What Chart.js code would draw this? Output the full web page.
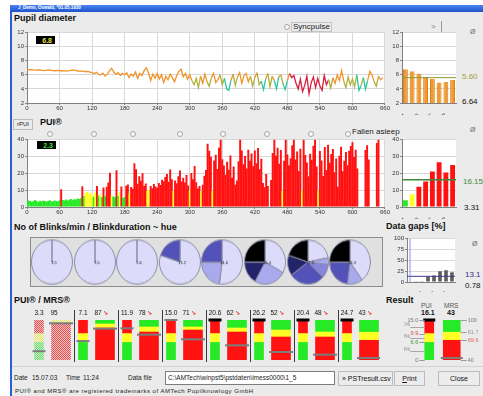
<!DOCTYPE html>
<html lang="en">
<head>
<meta charset="utf-8">
<title>PST result</title>
<script src="https://cdn.jsdelivr.net/npm/chart.js@4.4.1/dist/chart.umd.min.js"></script>
<style>
  html, body { margin: 0; padding: 0; }
  body {
    position: relative; width: 483px; height: 396px; overflow: hidden;
    background: #fff; font-family: "Liberation Sans", Arial, sans-serif; color: #111;
  }
  .a { position: absolute; white-space: nowrap; line-height: 1; }
  canvas { position: absolute; }
  #win { left: 10px; top: 5px; width: 473px; height: 391px; background: #ebebeb;
         border-left: 2px solid #2a5ed8; box-sizing: border-box; }
  #titlebar { left: 10px; top: 5px; width: 473px; height: 7px;
              background: linear-gradient(#4a86f0, #1d52cc); }
  #titlebar span { position: absolute; left: 8px; top: 1px; font-size: 4.5px; color: #fff; font-weight: bold; }
  .head { font-size: 9px; font-weight: bold; }
  .small { font-size: 8px; color: #222; }
  .avg { font-size: 7px; color: #666; }
  .stat { font-size: 8px; }
  .radio { width: 4px; height: 4px; border: 1px solid #a8a8a8; border-radius: 50%; background: #f8f8f8; }
  .lcd { background: #000; font-size: 7px; font-weight: bold; text-align: right;
         padding: 1px 3px 0 0; box-sizing: border-box; }
  .btn { border: 1px solid #bcbcbc; background: #ececec; font-size: 7px; text-align: center;
         box-sizing: border-box; line-height: 13px; }
  .row { font-size: 6.5px; color: #222; }
</style>
</head>
<body>
<div id="win" class="a"></div>
<div id="titlebar" class="a"><span>J_Demo, Oswald, *01.05.1930</span></div>

<!-- pupil diameter -->
<div class="a head" style="left:14px;top:14px">Pupil diameter</div>
<div class="a radio" style="left:284px;top:24px"></div>
<div class="a small" style="left:291px;top:22px;border:1px solid #c6c6c6;padding:0 1px">Syncpulse</div>
<div class="a small" style="left:431px;top:23px;color:#777">&gt;</div>
<div class="a" style="left:441px;top:21px;width:1px;height:12px;background:#9a9a9a"></div>
<div class="a avg" style="left:470px;top:28px">Ø</div>
<div class="a stat" id="pupilMeanLabel" style="left:462px;top:73px;color:#a0a040"></div>
<div class="a stat" id="pupilFirstLabel" style="left:462px;top:98px"></div>
<canvas id="pupilChart" width="382" height="87" style="left:8px;top:28px"></canvas>
<canvas id="pupilBars" width="70" height="87" style="left:390px;top:28px"></canvas>
<div class="a lcd" id="pupilNow" style="left:36px;top:36px;width:19px;height:8px;color:#e6e632"></div>

<!-- PUI -->
<div class="a btn" style="left:13px;top:119px;width:20px;height:11px;line-height:9px;font-size:6px">rPUI</div>
<div class="a head" style="left:40px;top:118px">PUI®</div>
<div class="a radio" style="left:47px;top:131px"></div>
<div class="a radio" style="left:91px;top:131px"></div>
<div class="a radio" style="left:130px;top:131px"></div>
<div class="a radio" style="left:177px;top:131px"></div>
<div class="a radio" style="left:220px;top:131px"></div>
<div class="a radio" style="left:264px;top:131px"></div>
<div class="a radio" style="left:308px;top:131px"></div>
<div class="a radio" style="left:345px;top:131px"></div>
<div class="a small" style="left:352px;top:128px">Fallen asleep</div>
<div class="a avg" style="left:470px;top:126px">Ø</div>
<div class="a stat" id="puiMeanLabel" style="left:463px;top:178px;color:#3a8a3a"></div>
<div class="a stat" id="puiLowLabel" style="left:464px;top:204px"></div>
<canvas id="puiChart" width="382" height="84" style="left:8px;top:135px"></canvas>
<canvas id="puiBars" width="70" height="84" style="left:390px;top:135px"></canvas>
<div class="a lcd" id="puiNow" style="left:37px;top:141px;width:19px;height:8px;color:#33e833"></div>

<!-- blinks and data gaps -->
<div class="a head" style="left:14px;top:223px">No of Blinks/min / Blinkduration ~ hue</div>
<div class="a" style="left:30px;top:237px;width:353px;height:50px;border:1px solid #8c8c8c;background:#e0e0e0;box-sizing:border-box"></div>
<div class="a head" style="left:386px;top:222px">Data gaps [%]</div>
<div class="a avg" style="left:472px;top:240px">Ø</div>
<div class="a stat" id="gapMeanLabel" style="left:465px;top:271px;color:#303088"></div>
<div class="a stat" id="gapLowLabel" style="left:465px;top:282px"></div>
<canvas id="gapChart" width="70" height="58" style="left:390px;top:234px"></canvas>

<!-- PUI / MRS -->
<div class="a head" style="left:14px;top:296px">PUI® / MRS®</div>
<div class="a head" style="left:386px;top:296px">Result</div>
<div class="a" style="left:421px;top:303px;font-size:6.5px;color:#555">PUI</div>
<div class="a" style="left:444px;top:303px;font-size:6.5px;color:#555">MRS</div>
<div class="a" id="resultPuiLabel" style="left:421px;top:309px;font-size:7px;font-weight:bold"></div>
<div class="a" id="resultMrsLabel" style="left:447px;top:309px;font-size:7px;font-weight:bold"></div>
<canvas id="gaugeChart" width="352" height="66" style="left:28px;top:300px"></canvas>
<canvas id="resultChart" width="79" height="66" style="left:404px;top:300px"></canvas>
<div class="a" style="left:12px;top:366px;width:471px;height:1px;background:#d2d2d2"></div>

<!-- footer row -->
<div class="a row" style="left:14px;top:375px">Date</div>
<div class="a row" style="left:32px;top:375px">15.07.03</div>
<div class="a row" style="left:66px;top:375px">Time</div>
<div class="a row" style="left:83px;top:375px">11:24</div>
<div class="a row" style="left:128px;top:375px">Data file</div>
<div class="a" style="left:165px;top:371px;width:170px;height:14px;background:#fff;border:1px solid #7c7c7c;box-sizing:border-box;font-size:6.5px;padding:3px 2px;color:#222">C:\AMTech\winpst5\pstdaten\imess0000\1_5</div>
<div class="a btn" style="left:338px;top:371px;width:55px;height:15px;text-align:left;padding-left:3px;overflow:hidden">» PSTresult.csv</div>
<div class="a btn" style="left:394px;top:371px;width:31px;height:15px"><u>P</u>rint</div>
<div class="a btn" style="left:438px;top:371px;width:42px;height:15px">Close</div>
<div class="a" style="left:15px;top:388px;font-size:6px;letter-spacing:0.5px;color:#222">PUI® and MRS® are registered trademarks of AMTech Pupilknowlogy GmbH</div>

<script>
// ---- pupil diameter [mm], one sample every 4 s
const pupilStep = 4;
const pupilDiameter = [
  6.70, 6.72, 6.75, 6.70, 6.66, 6.71, 6.69, 6.64, 6.60, 6.66, 6.70, 6.65, 6.61, 6.58, 6.64,
  6.60, 6.55, 6.61, 6.52, 6.56, 6.62, 6.70, 6.66, 6.58, 6.54, 6.49, 6.55, 6.44, 6.50, 6.40,
  6.30, 6.18, 6.35, 6.08, 6.00, 6.25, 5.82, 6.10, 6.60, 6.92, 6.40, 6.08, 6.30, 5.90, 6.20,
  6.02, 6.30, 5.60, 6.12, 5.80, 6.40, 5.50, 6.20, 5.90, 6.60, 7.00, 6.30, 5.20, 6.10, 5.50,
  6.20, 5.40, 6.00, 4.90, 5.80, 5.30, 6.10, 5.60, 5.00, 5.90, 6.50, 6.80, 5.70, 6.20, 5.40,
  6.00, 5.20, 4.60, 5.50, 4.20, 5.80, 4.80, 6.10, 5.00, 4.40, 5.60, 6.20, 4.90, 5.30, 6.00,
  4.60, 5.50, 4.00, 3.80, 5.20, 6.10, 4.50, 5.70, 6.30, 4.80, 5.90, 6.20, 5.00, 5.80, 4.40,
  5.60, 6.30, 4.60, 5.10, 3.90, 5.40, 6.20, 4.30, 5.80, 5.20, 4.00, 5.70, 6.00, 4.70, 3.90,
  5.20, 6.20, 5.60, 5.90, 4.80, 4.00, 5.40, 3.60, 4.50, 5.80, 3.30, 4.90, 5.70, 4.20, 5.50,
  4.40, 3.80, 5.90, 4.60, 5.30, 4.10, 5.60, 4.80, 6.00, 5.20, 6.60, 5.10, 4.20, 5.70, 4.60,
  5.40, 4.30, 6.00, 3.80, 4.50, 5.60, 4.00, 5.20, 6.50, 6.00, 5.00, 4.40, 5.80, 5.30, 5.60
];
const pupilFlagFrom = 484, pupilFlagTo = 556;   // section flagged in red
const pupilNow = 6.8;

const minuteLabels = ['1', '2', '3', '4', '5', '6', '7', '8'];
const pupilMinute = [6.8, 6.5, 6.2, 5.7, 5.4, 4.9, 5.0, 5.3];
const pupilMean = 5.60;
const pupilFirst = 6.64;

// ---- PUI, one value every 3 s
const puiStep = 3;
const puiTrace = [
  3.2, 3.8, 3.5, 2.9, 3.6, 4.1, 3.4, 3.0, 3.7, 3.3, 3.9, 3.5, 3.1, 3.6, 4.0, 3.4, 3.2, 3.8, 3.5, 3.3,
  4.0, 10.5, 4.2, 3.8, 4.5, 3.9, 4.3, 4.8, 4.1, 4.6, 4.4, 5.0, 4.7, 5.2, 12.3, 6.5, 8.4, 9.0, 7.8, 8.6,
  7.2, 6.1, 8.8, 12.4, 6.8, 7.5, 5.9, 11.6, 6.4, 12.0, 14.5, 20.3, 7.0, 6.2, 5.8, 21.8, 6.6, 8.9, 12.2, 5.4,
  6.0, 12.6, 13.4, 8.2, 11.9, 10.8, 26.0, 22.4, 13.8, 18.2, 15.6, 20.1, 12.4, 14.0, 9.6, 9.9, 12.5, 11.2, 13.6, 12.1,
  11.4, 14.2, 13.0, 16.1, 15.3, 17.8, 19.6, 15.0, 22.3, 16.4, 9.5, 15.8, 14.1, 18.3, 21.6, 15.2, 17.4, 14.6, 19.0, 12.8,
  9.8, 20.2, 16.5, 24.3, 14.7, 11.0, 12.5, 9.4, 13.2, 18.6, 22.0, 37.5, 33.4, 29.8, 9.7, 27.6, 31.0, 22.5, 35.2, 40.0,
  28.4, 24.6, 19.2, 26.8, 22.1, 30.5, 17.4, 24.0, 13.2, 15.8, 27.2, 40.0, 33.6, 25.4, 30.2, 22.8, 34.0, 27.5, 31.8, 24.2,
  33.5, 26.0, 35.0, 22.4, 28.6, 14.2, 11.8, 19.6, 12.4, 0, 16.0, 32.0, 40.0, 30.4, 35.2, 25.6, 33.8, 9.6, 27.4, 40.0,
  31.2, 24.8, 29.0, 36.6, 40.0, 28.2, 33.0, 21.4, 34.6, 9.8, 40.0, 30.8, 26.4, 18.2, 31.6, 28.0, 36.4, 40.0, 24.0, 9.8,
  33.2, 27.6, 18.4, 35.6, 22.0, 37.0, 26.2, 31.4, 34.4, 20.6, 28.8, 12.0, 30.4, 35.8, 21.2, 27.4, 32.6, 24.8, 33.4, 36.2,
  38.4, 29.6, 34.0, 22.8, 0, 0, 0, 0, 33.8, 36.6, 28.2, 0, 0, 0, 0, 38.0, 40.0, 0, 0, 0,
  0
];
const puiNow = 2.3;
const puiMinute = [4.0, 7.5, 12.0, 15.1, 21.0, 26.5, 20.5, 25.0];
const puiMean = 16.15;
const puiLow = 3.31;

// ---- blinks per minute and share of each blink-duration class
const blinkRate = ['3.5', '3.5', '5.6', '13.2', '14.6', '16.4', '17.5', '18.3'];
const blinkShares = [
  [100, 0, 0, 0, 0, 0],
  [100, 0, 0, 0, 0, 0],
  [100, 0, 0, 0, 0, 0],
  [80, 0, 0, 20, 0, 0],
  [52, 23, 0, 25, 0, 0],
  [33, 25, 0, 0, 17, 25],
  [22, 5, 10, 28, 15, 20],
  [40, 12, 0, 23, 0, 25]
];

// ---- data gaps [%] per minute
const gapMinute = [1, 0.4, 2, 12, 15, 25, 27, 22.4];
const gapLow = 0.78;

// ---- PUI / MRS per minute
const groupPui = [3.3, 7.1, 11.9, 15.0, 20.6, 26.2, 20.4, 24.7];
const groupMrs = [95, 87, 78, 71, 62, 52, 48, 43];
const mrsGreenFrom = [100, 94, 89.5, 89.5, 88, 85, 82, 81.7];
const mrsRedBelow = [95.5, 88, 82, 85, 82, 74.5, 74.5, 69.6];
const puiLimits = [6.6, 9.9];          // green below, red above
const resultPui = 16.1;
const resultMrs = 43;
const resultShares = [22.9, 11.0, 66.1]; // time in green / yellow / red PUI band [%]
const resultMrsLimits = [69.6, 81.7];

// ------------------------------------------------------------
const FONT = '"Liberation Sans", Arial, sans-serif';
Chart.defaults.font.family = FONT;
Chart.defaults.font.size = 6;
Chart.defaults.color = '#333';
Chart.defaults.animation = false;
Chart.defaults.responsive = false;
Chart.defaults.plugins.legend.display = false;
Chart.defaults.plugins.tooltip.enabled = false;

const PUI_MAX = 15, MRS_MIN = 40, MRS_MAX = 100;
const GREEN = '#26ea26', YELLOW = '#ffff26', RED = '#ff1212';

// white plot background
const plotBg = {
  id: 'plotBg',
  beforeDraw(chart) {
    const a = chart.chartArea, c = chart.ctx;
    c.save();
    c.fillStyle = '#fff';
    c.fillRect(a.left, a.top, a.right - a.left, a.bottom - a.top);
    c.restore();
  }
};

// horizontal reference line (mean values)
function hLine(value, color, width) {
  return {
    id: 'hLine',
    afterDatasetsDraw(chart) {
      const a = chart.chartArea, c = chart.ctx;
      const y = chart.scales.y.getPixelForValue(value);
      c.save();
      c.strokeStyle = color;
      c.lineWidth = width;
      c.beginPath(); c.moveTo(a.left, y); c.lineTo(a.right, y); c.stroke();
      c.restore();
    }
  };
}

const grid = { color: '#d8d8d8', tickLength: 2, tickColor: '#888' };

function valueAxis(min, max, step, width) {
  return {
    min, max,
    ticks: { stepSize: step, padding: 1, maxTicksLimit: 20 },
    grid, border: { color: '#808080' },
    afterFit(s) { s.width = width; }
  };
}
function timeAxis() {
  return {
    type: 'linear', min: 0, max: 660, offset: false,
    ticks: { stepSize: 60, padding: 0, maxRotation: 0, maxTicksLimit: 20 },
    grid: Object.assign({ offset: false }, grid), border: { color: '#808080' },
    afterFit(s) { s.height = 12; }
  };
}
function minuteAxis(height) {
  return {
    grid: { display: false },
    border: { color: '#808080' },
    ticks: { padding: 1, font: { size: 6.5 } },
    afterFit(s) { s.height = height; }
  };
}

function puiColour(v) {
  return v < 7 ? GREEN : v < 10 ? YELLOW : RED;
}

// text readouts come from the same numbers as the marks
document.getElementById('pupilNow').textContent = pupilNow.toFixed(1);
document.getElementById('pupilMeanLabel').textContent = pupilMean.toFixed(2);
document.getElementById('pupilFirstLabel').textContent = pupilFirst.toFixed(2);
document.getElementById('puiNow').textContent = puiNow.toFixed(1);
document.getElementById('puiMeanLabel').textContent = puiMean.toFixed(2);
document.getElementById('puiLowLabel').textContent = puiLow.toFixed(2);
const gapMean = gapMinute.reduce((s, v) => s + v, 0) / gapMinute.length;
document.getElementById('gapMeanLabel').textContent = gapMean.toFixed(1);
document.getElementById('gapLowLabel').textContent = gapLow.toFixed(2);
document.getElementById('resultPuiLabel').textContent = resultPui.toFixed(1);
document.getElementById('resultMrsLabel').textContent = String(resultMrs);

// Pupil diameter trace
function pupilSegment(seg) {
  const t = seg.p0.parsed.x;
  const lo = Math.min(seg.p0.parsed.y, seg.p1.parsed.y);
  if (t >= pupilFlagFrom && t < pupilFlagTo) return '#d81e3c';
  if (lo < 4.1) return '#2cc6a2';
  if (lo < 4.8) return '#b0b03a';
  return '#f0942a';
}
new Chart(document.getElementById('pupilChart'), {
  type: 'line',
  data: {
    datasets: [{
      data: pupilDiameter.map((v, i) => ({ x: i * pupilStep, y: v })),
      borderColor: '#f0942a', borderWidth: 1.3, pointRadius: 0,
      segment: { borderColor: pupilSegment }
    }]
  },
  options: {
    layout: { padding: { top: 4, right: 5 } },
    scales: { x: timeAxis(), y: valueAxis(2, 12, 2, 19) }
  },
  plugins: [plotBg]
});

// Pupil diameter per minute
new Chart(document.getElementById('pupilBars'), {
  type: 'bar',
  data: {
    labels: minuteLabels,
    datasets: [{
      data: pupilMinute, backgroundColor: '#f39a2e', borderColor: '#d77a16',
      borderWidth: { left: 1, right: 1, top: 0, bottom: 0 },
      barPercentage: 0.72, categoryPercentage: 1
    }]
  },
  options: {
    layout: { padding: { top: 4, right: 4 } },
    scales: { x: minuteAxis(12), y: Object.assign(valueAxis(2, 12, 2, 12), { beginAtZero: false }) }
  },
  plugins: [plotBg, hLine(pupilMean, '#8a9a30', 1)]
});

// PUI trace
new Chart(document.getElementById('puiChart'), {
  type: 'bar',
  data: {
    datasets: [{
      data: puiTrace.map((v, i) => ({ x: i * puiStep, y: v })),
      backgroundColor: ctx => puiColour(puiTrace[ctx.dataIndex]),
      barPercentage: 1.2, categoryPercentage: 1
    }]
  },
  options: {
    layout: { padding: { top: 4, right: 5 } },
    scales: { x: timeAxis(), y: valueAxis(0, 40, 10, 19) }
  },
  plugins: [plotBg]
});

// PUI per minute
new Chart(document.getElementById('puiBars'), {
  type: 'bar',
  data: {
    labels: minuteLabels,
    datasets: [{
      data: puiMinute, backgroundColor: puiMinute.map(puiColour),
      barPercentage: 0.72, categoryPercentage: 1
    }]
  },
  options: {
    layout: { padding: { top: 4, right: 4 } },
    scales: { x: minuteAxis(12), y: valueAxis(0, 40, 10, 12) }
  },
  plugins: [plotBg, hLine(puiMean, '#3a8a3a', 1.5)]
});

// Blink pies
const blinkColours = ['#dcdcfa', '#a9a9ee', '#8585dc', '#5252b8', '#23236a', '#000000'];
blinkShares.forEach((shares, i) => {
  const cv = document.createElement('canvas');
  cv.width = 44; cv.height = 44;
  cv.style.left = (30 + i * 42.6) + 'px';
  cv.style.top = '240px';
  cv.style.transform = 'scaleY(1.08)';
  document.body.appendChild(cv);
  const rateText = {
    id: 'rateText',
    afterDraw(chart) {
      const arc = chart.getDatasetMeta(0).data[0], c = chart.ctx;
      c.save();
      c.font = '4px ' + FONT; c.fillStyle = '#222';
      c.textAlign = 'center'; c.textBaseline = 'middle';
      c.fillText(blinkRate[i], arc.x + 2, arc.y + 1);
      c.restore();
    }
  };
  new Chart(cv, {
    type: 'pie',
    data: {
      labels: ['< 100', '100-150', '150-200', '200-300', '300-400', '> 400'],
      datasets: [{ data: shares, backgroundColor: blinkColours, borderColor: '#8c8ca6', borderWidth: 1 }]
    },
    options: { layout: { padding: 1 } },
    plugins: [rateText]
  });
});

// Data gaps per minute
const gapCursor = {
  id: 'gapCursor',
  afterDatasetsDraw(chart) {
    const a = chart.chartArea, c = chart.ctx;
    const x = chart.scales.x.getPixelForValue(0);
    c.save();
    c.strokeStyle = '#8c8cf0'; c.lineWidth = 1;
    c.beginPath(); c.moveTo(x, a.top); c.lineTo(x, a.bottom); c.stroke();
    c.restore();
  }
};
new Chart(document.getElementById('gapChart'), {
  type: 'bar',
  data: {
    labels: minuteLabels,
    datasets: [{ data: gapMinute, backgroundColor: '#5c5c5c', barPercentage: 0.6, categoryPercentage: 1 }]
  },
  options: {
    layout: { padding: { top: 4, right: 5 } },
    scales: {
      x: Object.assign(minuteAxis(10), { ticks: { padding: 0, font: { size: 6 } } }),
      y: valueAxis(0, 100, 25, 17)
    }
  },
  plugins: [plotBg, hLine(gapMean, '#3a3a8c', 1), gapCursor]
});

// PUI / MRS gauges per minute
function hatch(base, dot) {
  const c = document.createElement('canvas');
  c.width = 2; c.height = 2;
  const g = c.getContext('2d');
  g.fillStyle = base; g.fillRect(0, 0, 2, 2);
  g.fillStyle = dot; g.fillRect(0, 0, 1, 1); g.fillRect(1, 1, 1, 1);
  return g.createPattern(c, 'repeat');
}
const hatchRed = hatch('#f7c2c2', '#e25050');
const hatchYellow = hatch('#f6f6c0', '#e2e27a');
const hatchGreen = hatch('#c4f2c4', '#6ed86e');

const slots = groupPui.flatMap((_, i) => ['PUI ' + (i + 1), 'MRS ' + (i + 1)]);
const onPui = f => slots.map((_, s) => (s % 2 === 0 ? f(s / 2) : null));
const onMrs = f => slots.map((_, s) => (s % 2 === 1 ? f((s - 1) / 2) : null));

function band(data, axis, thick, solid, hatched) {
  return {
    data, yAxisID: axis, barThickness: thick, grouped: false, order: 1,
    backgroundColor: ctx => (ctx.dataIndex < 2 ? hatched : solid)
  };
}
function marker(data, axis, radius, over) {
  return {
    type: 'line', data, yAxisID: axis, showLine: false, order: 0, clip: false,
    pointStyle: 'line', pointRadius: radius,
    pointBorderColor: ctx => (over(ctx.dataIndex) ? '#000' : '#7c7c7c'),
    pointBorderWidth: ctx => (over(ctx.dataIndex) ? 3 : 2)
  };
}

const gaugeText = {
  id: 'gaugeText',
  afterDraw(chart) {
    const c = chart.ctx, x = chart.scales.x, a = chart.chartArea;
    c.save();
    c.textBaseline = 'middle';
    groupPui.forEach((v, i) => {
      const px = x.getPixelForValue(2 * i), mx = x.getPixelForValue(2 * i + 1);
      c.font = '6.5px ' + FONT; c.fillStyle = '#111'; c.textAlign = 'center';
      c.fillText(v.toFixed(1), px, a.top - 7);
      c.fillText(String(groupMrs[i]), mx - 7, a.top - 7);
      if (groupMrs[i] < groupMrs[Math.max(i - 1, 0)]) {
        c.font = 'bold 6px "DejaVu Sans", sans-serif'; c.fillStyle = '#e02020'; c.textAlign = 'left';
        c.fillText('↘', mx - 2, a.top - 7);
      }
      if (i > 0) {
        const sx = Math.round((x.getPixelForValue(2 * i - 1) + px) / 2 + 1.5) + 0.5;
        c.strokeStyle = '#3a3a3a'; c.lineWidth = 1;
        c.beginPath(); c.moveTo(sx, a.top - 10); c.lineTo(sx, a.bottom + 2); c.stroke();
      }
    });
    c.restore();
  }
};

new Chart(document.getElementById('gaugeChart'), {
  type: 'bar',
  data: {
    labels: slots,
    datasets: [
      marker(onPui(i => Math.min(groupPui[i], PUI_MAX)), 'pui', 6.5, s => groupPui[s / 2] > PUI_MAX),
      marker(onMrs(i => groupMrs[i]), 'mrs', 12, () => false),
      band(onPui(() => [0, puiLimits[0]]), 'pui', 9, GREEN, hatchGreen),
      band(onPui(() => [puiLimits[0], puiLimits[1]]), 'pui', 9, YELLOW, hatchYellow),
      band(onPui(() => [puiLimits[1], PUI_MAX]), 'pui', 9, RED, hatchRed),
      band(onMrs(i => [MRS_MIN, mrsRedBelow[i]]), 'mrs', 19, RED, hatchRed),
      band(onMrs(i => [mrsRedBelow[i], mrsGreenFrom[i]]), 'mrs', 19, YELLOW, hatchYellow),
      band(onMrs(i => [mrsGreenFrom[i], MRS_MAX]), 'mrs', 19, GREEN, hatchGreen)
    ]
  },
  options: {
    layout: { autoPadding: false, padding: { top: 20, bottom: 6, left: 0, right: 0 } },
    scales: {
      x: { display: false },
      pui: { display: false, min: 0, max: PUI_MAX },
      mrs: { display: false, min: MRS_MIN, max: MRS_MAX }
    }
  },
  plugins: [gaugeText]
});

// Result gauges with their scale marks
const resultText = {
  id: 'resultText',
  afterDraw(chart) {
    const c = chart.ctx, x = chart.scales.x, py = chart.scales.pui, my = chart.scales.mrs;
    const px = x.getPixelForValue(0), mx = x.getPixelForValue(1);
    c.save();
    c.font = '5.5px ' + FONT; c.textBaseline = 'middle'; c.lineWidth = 1;
    const tick = (x0, x1, y, color) => {
      c.strokeStyle = color;
      c.beginPath(); c.moveTo(x0, Math.round(y) + 0.5); c.lineTo(x1, Math.round(y) + 0.5); c.stroke();
    };
    // PUI limits
    [[PUI_MAX, '#777'], [puiLimits[1], '#e04848'], [puiLimits[0], '#3c9c3c'], [0, '#777']].forEach(([v, col]) => {
      const y = py.getPixelForValue(v);
      tick(px - 10, px - 4.5, y, '#9a9a9a');
      c.fillStyle = col; c.textAlign = 'right';
      c.fillText(v === 0 ? '0' : v.toFixed(1), px - 11, y);
    });
    // share of time in each band, written at the band middle
    const edges = [0, puiLimits[0], puiLimits[1], PUI_MAX];
    resultShares.forEach((s, k) => {
      const y = py.getPixelForValue((edges[k] + edges[k + 1]) / 2);
      tick(px - 19, px - 4.5, y, '#a8a8a8');
      c.fillStyle = '#8a8a8a'; c.textAlign = 'right';
      c.fillText(s.toFixed(1) + '%', px - 19, y - 2);
    });
    // MRS limits
    [[MRS_MAX, '#777'], [resultMrsLimits[1], '#999'], [resultMrsLimits[0], '#e06060'], [MRS_MIN, '#777']].forEach(([v, col]) => {
      const y = my.getPixelForValue(v);
      tick(mx + 9, mx + 15, y, '#9a9a9a');
      c.fillStyle = col; c.textAlign = 'left';
      c.fillText(String(v), mx + 16, y);
    });
    c.restore();
  }
};

new Chart(document.getElementById('resultChart'), {
  type: 'bar',
  data: {
    labels: ['PUI', 'MRS'],
    datasets: [
      marker([Math.min(resultPui, PUI_MAX), null], 'pui', 6, () => resultPui > PUI_MAX),
      marker([null, resultMrs], 'mrs', 11, () => false),
      band([[0, puiLimits[0]], null], 'pui', 9, GREEN, GREEN),
      band([[puiLimits[0], puiLimits[1]], null], 'pui', 9, YELLOW, YELLOW),
      band([[puiLimits[1], PUI_MAX], null], 'pui', 9, RED, RED),
      band([null, [MRS_MIN, resultMrsLimits[0]]], 'mrs', 17, RED, RED),
      band([null, resultMrsLimits], 'mrs', 17, YELLOW, YELLOW),
      band([null, [resultMrsLimits[1], MRS_MAX]], 'mrs', 17, GREEN, GREEN)
    ]
  },
  options: {
    layout: { autoPadding: false, padding: { top: 20, bottom: 6, left: 14, right: 20 } },
    scales: {
      x: { display: false },
      pui: { display: false, min: 0, max: PUI_MAX },
      mrs: { display: false, min: MRS_MIN, max: MRS_MAX }
    }
  },
  plugins: [resultText]
});
</script>
</body>
</html>
